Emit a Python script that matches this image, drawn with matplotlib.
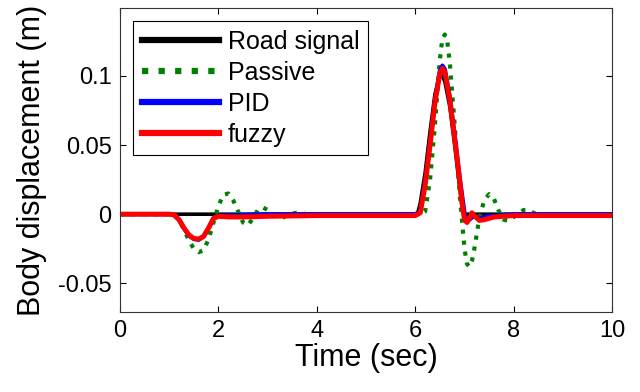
import matplotlib
matplotlib.use("Agg")
import matplotlib.pyplot as plt

plt.rcParams['font.family'] = ['Liberation Sans', 'DejaVu Sans']

# Road signal (black)
t_road = [0, 6.0, 6.05, 6.1, 6.2, 6.3, 6.4, 6.5, 6.55, 6.6, 6.7, 6.8, 6.9, 6.95, 7.0, 10]
y_road = [0, 0, 0.001, 0.008, 0.030, 0.060, 0.087, 0.100, 0.100, 0.096, 0.078, 0.050, 0.020, 0.006, 0, 0]

# Passive suspension (green dotted)
t_passive = [0, 1.0, 1.1, 1.2, 1.3, 1.4, 1.5, 1.6, 1.7, 1.8,
             1.9, 2.0, 2.1, 2.2, 2.3, 2.4, 2.5, 2.6, 2.7, 2.8,
             2.9, 3.0, 3.1, 3.2, 3.3, 3.4, 3.5, 3.6, 3.8, 6.1,
             6.2, 6.3, 6.4, 6.5, 6.55, 6.6, 6.65, 6.7, 6.8, 6.9,
             7.0, 7.05, 7.1, 7.15, 7.2, 7.3, 7.4, 7.5, 7.6, 7.7,
             7.8, 7.9, 8.0, 8.1, 8.2, 8.3, 8.4, 8.5, 8.7, 10]
y_passive = [0, 0, -0.0005, -0.004, -0.011, -0.019, -0.025, -0.0275, -0.026, -0.018,
             -0.006, 0.006, 0.014, 0.015, 0.010, 0.002, -0.006, -0.008, -0.003, 0.003,
             0.005, 0.003, 0.000, -0.002, -0.0025, -0.001, 0.0005, 0.001, 0.0, 0.0,
             0.002, 0.025, 0.065, 0.112, 0.127, 0.130, 0.125, 0.110, 0.065, 0.015,
             -0.025, -0.036, -0.038, -0.034, -0.025, -0.003, 0.010, 0.0145, 0.011, 0.002,
             -0.004, -0.005, -0.002, 0.001, 0.003, 0.003, 0.001, -0.0005, -0.001, -0.001]

# PID (blue)
t_pid = [0, 1.0, 1.1, 1.2, 1.3, 1.4, 1.5, 1.6, 1.7, 1.8,
         1.9, 2.0, 2.2, 2.5, 3.0, 4.0, 6.0, 6.1, 6.2, 6.3,
         6.4, 6.5, 6.55, 6.6, 6.7, 6.8, 6.9, 7.0, 7.05, 7.1,
         7.2, 7.3, 7.4, 7.5, 7.6, 7.8, 8.0, 10]
y_pid = [0, 0, -0.0005, -0.004, -0.010, -0.0155, -0.018, -0.0185, -0.016, -0.010,
         -0.003, -0.001, -0.001, -0.0005, 0, 0, 0, 0.002, 0.023, 0.052,
         0.083, 0.104, 0.1075, 0.105, 0.085, 0.057, 0.027, 0.001, -0.005, -0.004,
         -0.001, -0.003, -0.002, -0.0015, -0.001, -0.0005, 0, 0]

# fuzzy (red)
t_fuzzy = [0, 1.0, 1.1, 1.2, 1.3, 1.4, 1.5, 1.6, 1.7, 1.8,
           1.9, 2.0, 2.2, 2.5, 3.0, 4.0, 6.0, 6.1, 6.2, 6.3,
           6.4, 6.5, 6.55, 6.6, 6.7, 6.8, 6.9, 6.95, 7.0, 7.05,
           7.1, 7.15, 7.2, 7.3, 7.4, 7.5, 7.6, 7.8, 8.0, 10]
y_fuzzy = [0, 0, -0.0005, -0.004, -0.010, -0.015, -0.0175, -0.018, -0.016, -0.010,
           -0.003, -0.0015, -0.002, -0.002, -0.0015, -0.001, -0.001, 0.001, 0.021, 0.050,
           0.081, 0.102, 0.1055, 0.103, 0.083, 0.055, 0.025, 0.008, -0.004, -0.006,
           -0.003, 0.001, -0.001, -0.0045, -0.004, -0.003, -0.002, -0.0015, -0.001, -0.001]

fig = plt.figure(figsize=(6.4, 3.92), dpi=100)
ax = fig.add_axes([0.1875, 0.205, 0.769, 0.774])

ax.plot(t_road, y_road, color='black', lw=2.6, label='Road signal')
ax.plot(t_passive, y_passive, color='#008000', lw=3, ls=':', label='Passive')
ax.plot(t_pid, y_pid, color='blue', lw=3, label='PID')
ax.plot(t_fuzzy, y_fuzzy, color='red', lw=3.6, label='fuzzy')

ax.set_xlim(0, 10)
ax.set_ylim(-0.0705, 0.149)
ax.set_xticks([0, 2, 4, 6, 8, 10])
ax.set_yticks([-0.05, 0, 0.05, 0.1])
ax.set_yticklabels(['-0.05', '0', '0.05', '0.1'])
ax.tick_params(direction='in', top=True, right=True, labelsize=17, length=4, pad=6)
for s in ax.spines.values():
    s.set_linewidth(0.8)
    s.set_color('#333333')

ax.set_xlabel('Time (sec)', fontsize=22, labelpad=1)
ax.set_ylabel('Body displacement (m)', fontsize=22, labelpad=8)

leg = ax.legend(loc='upper left', fontsize=18, handlelength=3.1, fancybox=False,
                edgecolor='black', framealpha=1, borderpad=0.35, labelspacing=0.28,
                handletextpad=0.35, borderaxespad=0, bbox_to_anchor=(0.026, 0.958))
leg.get_frame().set_linewidth(0.8)
for line in leg.get_lines():
    line.set_linewidth(4.5)

fig.savefig('out.png', dpi=100)
